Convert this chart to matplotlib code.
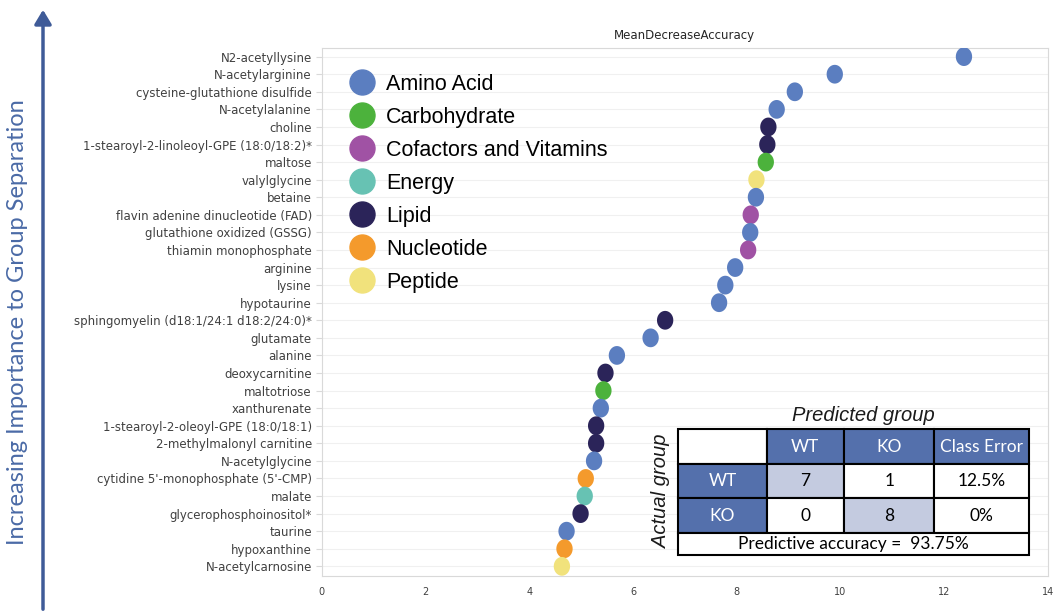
import numpy as np
import matplotlib
matplotlib.use("Agg")
import matplotlib.pyplot as plt
from matplotlib.lines import Line2D
from matplotlib.patches import Rectangle, FancyArrowPatch
from matplotlib.path import Path

# top 30 metabolites ranked by random forest importance
metabolites = [
    "N2-acetyllysine", "N-acetylarginine", "cysteine-glutathione disulfide",
    "N-acetylalanine", "choline", "1-stearoyl-2-linoleoyl-GPE (18:0/18:2)*",
    "maltose", "valylglycine", "betaine", "flavin adenine dinucleotide (FAD)",
    "glutathione oxidized (GSSG)", "thiamin monophosphate", "arginine", "lysine",
    "hypotaurine", "sphingomyelin (d18:1/24:1 d18:2/24:0)*", "glutamate",
    "alanine", "deoxycarnitine", "maltotriose", "xanthurenate",
    "1-stearoyl-2-oleoyl-GPE (18:0/18:1)", "2-methylmalonyl carnitine",
    "N-acetylglycine", "cytidine 5'-monophosphate (5'-CMP)", "malate",
    "glycerophosphoinositol*", "taurine", "hypoxanthine", "N-acetylcarnosine",
]
importance = [
    12.38, 9.89, 9.12, 8.77, 8.61, 8.59, 8.56, 8.38, 8.37, 8.27,
    8.26, 8.22, 7.97, 7.78, 7.66, 6.62, 6.34, 5.69, 5.47, 5.43,
    5.38, 5.29, 5.29, 5.25, 5.09, 5.07, 4.99, 4.72, 4.68, 4.63,
]
pathway = [
    "Amino Acid", "Amino Acid", "Amino Acid", "Amino Acid", "Lipid", "Lipid",
    "Carbohydrate", "Peptide", "Amino Acid", "Cofactors and Vitamins",
    "Amino Acid", "Cofactors and Vitamins", "Amino Acid", "Amino Acid",
    "Amino Acid", "Lipid", "Amino Acid", "Amino Acid", "Lipid", "Carbohydrate",
    "Amino Acid", "Lipid", "Lipid", "Amino Acid", "Nucleotide", "Energy",
    "Lipid", "Amino Acid", "Nucleotide", "Peptide",
]

classes = ["Amino Acid", "Carbohydrate", "Cofactors and Vitamins", "Energy",
           "Lipid", "Nucleotide", "Peptide"]
class_colors = ["#5b7ec0", "#4cb23c", "#a052a4", "#67c2b3",
                "#2b2459", "#f49a2c", "#f1e27c"]

# confusion matrix of the classifier
pred_labels = ["WT", "KO", "Class Error"]
actual_labels = ["WT", "KO"]
confusion = [[7, 1], [0, 8]]
class_error = ["12.5%", "0%"]
accuracy = "93.75%"

W, H = 1058, 612
fig = plt.figure(figsize=(W / 100, H / 100), dpi=100)
ax = fig.add_axes([321.7 / W, 1 - 576 / H, (1048 - 321.7) / W, (576 - 47.5) / H])

# slightly tall ellipse for the dots
t = np.linspace(0, 2 * np.pi, 80)
ellipse = Path(np.column_stack([0.87 * np.cos(t), np.sin(t)]))

ypos = np.arange(len(metabolites))
colors = [class_colors[classes.index(p)] for p in pathway]
ax.scatter(importance, ypos, s=13.5 ** 2, c=colors, marker=ellipse,
           linewidths=0, zorder=3)

ax.set_xlim(0, 14)
ax.set_ylim(len(metabolites) - 0.45, -0.52)
ax.set_yticks(ypos, metabolites, fontsize=8.5, color="#404040")
ax.set_xticks(range(0, 15, 2))
ax.tick_params(axis="x", length=0, pad=8, labelsize=7, labelcolor="#404040")
ax.tick_params(axis="y", length=4, color="#d9d9d9", pad=3)
ax.yaxis.grid(True, color="#f0f0f0", lw=0.8)
ax.set_axisbelow(True)
for sp in ax.spines.values():
    sp.set_color("#d9d9d9")
    sp.set_linewidth(0.8)
ax.set_title("MeanDecreaseAccuracy", fontsize=8.5, color="#262626", pad=6)

# legend of super pathways
handles = [Line2D([], [], ls="", marker="o", ms=18, mfc=c, mec=c, label=k)
           for k, c in zip(classes, class_colors)]
ax.legend(handles=handles, loc="upper left", bbox_to_anchor=(342.5 / W, 1 - 65 / H),
          bbox_transform=fig.transFigure, frameon=False,
          prop={"family": "Liberation Sans", "size": 15.5},
          handlelength=1.0, handletextpad=0.62, labelspacing=0.56,
          borderaxespad=0)

# importance arrow on the left
arrow = FancyArrowPatch((43 / W, 0), (43 / W, 1 - 7 / H), transform=fig.transFigure,
                        arrowstyle="-|>,head_length=0.5,head_width=0.3",
                        mutation_scale=17, lw=2.5, color="#3f5b98")
fig.add_artist(arrow)
fig.text(18 / W, 1 - 322 / H, "Increasing Importance to Group Separation",
         rotation=90, ha="center", va="center", fontsize=17, color="#4a6aa6",
         family="Lato")

# confusion matrix table
blue = "#5470ac"
light = "#c4cbe0"
tab = fig.add_axes([678.3 / W, 1 - 555 / H, 351 / W, 125.7 / H])
col_w = [88.4, 77.3, 90.3, 95.0]
row_h = [34.7, 34.3, 35.0, 21.7]
xs = np.concatenate([[0], np.cumsum(col_w)])
ys = np.concatenate([[0], np.cumsum(row_h)])
tab.set_xlim(0, xs[-1])
tab.set_ylim(ys[-1], 0)
tab.axis("off")

def cell(r, c, face, text="", tcolor="black", span=1):
    x0, x1 = xs[c], xs[c + span]
    y0, y1 = ys[r], ys[r + 1]
    tab.add_patch(Rectangle((x0, y0), x1 - x0, y1 - y0, facecolor=face,
                            edgecolor="black", lw=1.5, clip_on=False))
    tab.text((x0 + x1) / 2, (y0 + y1) / 2, text, ha="center", va="center",
             fontsize=12.5, color=tcolor, family="Lato")

cell(0, 0, "white")
for j, lab in enumerate(pred_labels):
    cell(0, j + 1, blue, lab, "white")
for i, lab in enumerate(actual_labels):
    cell(i + 1, 0, blue, lab, "white")
    for j in range(2):
        cell(i + 1, j + 1, light if i == j else "white", str(confusion[i][j]))
    cell(i + 1, 3, "white", class_error[i])
cell(3, 0, "white", "Predictive accuracy =  " + accuracy, span=4)

tab.text(xs[-1] / 2 + 10, -14, "Predicted group", ha="center", va="center",
         fontsize=14.5, style="italic", family="Liberation Sans", color="#1a1a1a")
tab.text(-17, ys[-1] / 2 - 0.5, "Actual group", ha="center", va="center",
         rotation=90, fontsize=14.5, style="italic", family="Liberation Sans",
         color="#1a1a1a")

fig.savefig("out.png", dpi=100)
